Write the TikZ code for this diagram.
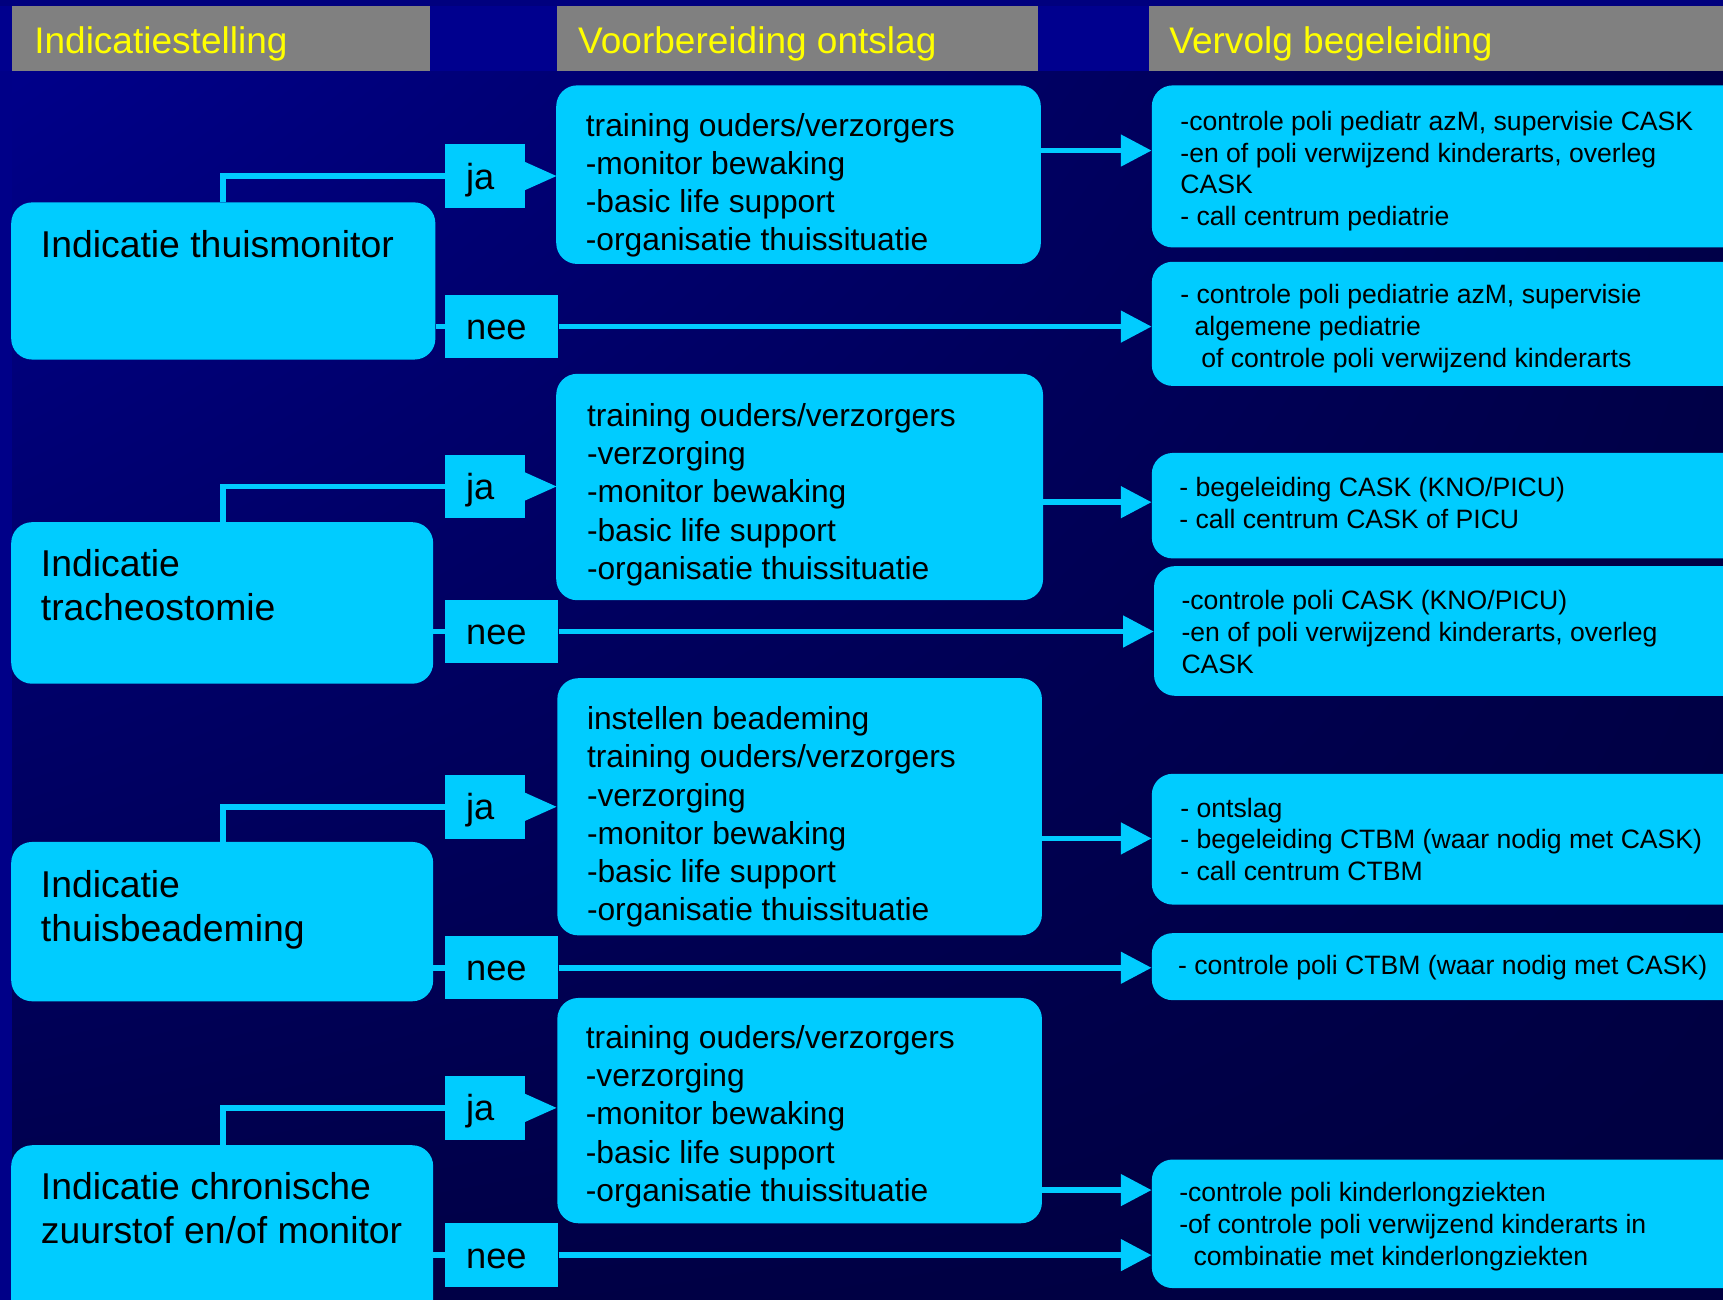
\documentclass[tikz,border=0pt]{standalone}
\usepackage{fontspec}
\setmainfont{Liberation Sans}
\usetikzlibrary{arrows.meta,calc,shadings}
\definecolor{cbox}{HTML}{00CCFF}
\definecolor{hgray}{HTML}{808080}
\definecolor{hyel}{HTML}{FFFF00}
\definecolor{bgA}{HTML}{00008E}
\definecolor{bgB}{HTML}{00004A}
\definecolor{bgC}{HTML}{000048}
\definecolor{bgD}{HTML}{000040}
\definecolor{band}{HTML}{00008E}
\definecolor{bandtop}{HTML}{00007E}
\definecolor{strip}{HTML}{000088}
\newcommand\mlines[1]{\vtop{\halign{##\hfil\cr#1\crcr}}}
\tikzset{
  box/.style={fill=cbox, rounded corners=19pt, inner sep=0pt, anchor=north west},
  tag/.style={fill=cbox, inner sep=0pt, anchor=north west},
  hdr/.style={fill=hgray, inner sep=0pt, anchor=north west},
  htext/.style={inner sep=0pt, anchor=base west, text=hyel, font=\fontsize{33.7}{40}\selectfont},
  ltext/.style={inner sep=0pt, anchor=base west, text=black, font=\fontsize{34}{40}\selectfont},
  ttext/.style={inner sep=0pt, anchor=base west, text=black, font=\fontsize{33}{40}\selectfont},
  mtext/.style={inner sep=0pt, anchor=base west, text=black, font=\fontsize{28.9}{34.8}\selectfont},
  rtext/.style={inner sep=0pt, anchor=base west, text=black, font=\fontsize{24.2}{29}\selectfont},
  conn/.style={draw=cbox, line width=5pt},
  arr/.style={conn, -{Triangle[length=28pt,width=28pt]}},
}
\begin{document}
\begin{tikzpicture}[x=1pt,y=-1pt]
\useasboundingbox (0,0) rectangle (1568,1183);
\clip (0,0) rectangle (1568,1183);
% background
\shade[upper left=bgA, upper right=bgB, lower left=bgC, lower right=bgD] (0,0) rectangle (1568,1183);
\fill[bandtop] (0,0) rectangle (1568,5.5);
\fill[band] (0,5.5) rectangle (1568,64.5);
\fill[strip] (0,64.5) rectangle (11,1183);

% headers
\node[hdr, minimum width=380pt, minimum height=59pt] (h1) at (11,5.5) {};
\node[hdr, minimum width=437.6pt, minimum height=59pt] (h2) at (507,5.5) {};
\node[hdr, minimum width=540pt, minimum height=59pt] (h3) at (1045.6,5.5) {};
\node[htext] (h1t) at (31,48.5) {Indicatiestelling};
\node[htext] (h2t) at (526,48.5) {Voorbereiding ontslag};
\node[htext] (h3t) at (1064,48.5) {Vervolg begeleiding};

% left boxes
\node[box, minimum width=386pt, minimum height=143pt] (l1) at (10,184) {};
\node[box, minimum width=384pt, minimum height=147pt] (l2) at (10,475) {};
\node[box, minimum width=384pt, minimum height=145pt] (l3) at (10,766) {};
\node[box, minimum width=384pt, minimum height=170pt] (l4) at (10,1042) {};
\node[ltext] (l1t) at (37,234) {Indicatie thuismonitor};
\node[ltext] (l2t) at (37,525) {\mlines{Indicatie\cr tracheostomie}};
\node[ltext] (l3t) at (37,817) {\mlines{Indicatie\cr thuisbeademing}};
\node[ltext] (l4t) at (37,1092) {\mlines{Indicatie chronische\cr zuurstof en/of monitor}};

% middle boxes
\node[box, minimum width=441pt, minimum height=162.5pt] (m1) at (506,77.5) {};
\node[box, minimum width=443pt, minimum height=206pt] (m2) at (506,340) {};
\node[box, minimum width=441pt, minimum height=234pt] (m3) at (507,617) {};
\node[box, minimum width=441pt, minimum height=205pt] (m4) at (507,908) {};
\node[mtext] (m1t) at (533,124) {\mlines{training ouders/verzorgers\cr -monitor bewaking\cr -basic life support\cr -organisatie thuissituatie}};
\node[mtext] (m2t) at (534,388) {\mlines{training ouders/verzorgers\cr -verzorging\cr -monitor bewaking\cr -basic life support\cr -organisatie thuissituatie}};
\node[mtext] (m3t) at (534,664) {\mlines{instellen beademing\cr training ouders/verzorgers\cr -verzorging\cr -monitor bewaking\cr -basic life support\cr -organisatie thuissituatie}};
\node[mtext] (m4t) at (533,954) {\mlines{training ouders/verzorgers\cr -verzorging\cr -monitor bewaking\cr -basic life support\cr -organisatie thuissituatie}};

% right boxes
\node[box, minimum width=560pt, minimum height=147.5pt] (r1) at (1048,77.5) {};
\node[box, minimum width=560pt, minimum height=113pt] (r2) at (1048,238) {};
\node[box, minimum width=560pt, minimum height=96pt] (r3) at (1048,412) {};
\node[box, minimum width=560pt, minimum height=118pt] (r4) at (1050,515) {};
\node[box, minimum width=560pt, minimum height=119pt] (r5) at (1048,704) {};
\node[box, minimum width=560pt, minimum height=61pt] (r6) at (1048,849) {};
\node[box, minimum width=560pt, minimum height=117pt] (r7) at (1048,1055) {};
\node[rtext] (r1t) at (1074,118.5) {\mlines{-controle poli pediatr azM, supervisie CASK\cr -en of poli verwijzend kinderarts, overleg\cr CASK\cr - call centrum pediatrie}};
\node[rtext] (r2t) at (1074,276.5) {\mlines{- controle poli pediatrie azM, supervisie\cr \hspace*{13pt}algemene pediatrie\cr \hspace*{19pt}of controle poli verwijzend kinderarts}};
\node[rtext] (r3t) at (1073,451.5) {\mlines{- begeleiding CASK (KNO/PICU)\cr - call centrum CASK of PICU}};
\node[rtext] (r4t) at (1075,554.5) {\mlines{-controle poli CASK (KNO/PICU)\cr -en of poli verwijzend kinderarts, overleg\cr CASK}};
\node[rtext] (r5t) at (1074,743.5) {\mlines{- ontslag\cr - begeleiding CTBM (waar nodig met CASK)\cr - call centrum CTBM}};
\node[rtext] (r6t) at (1072,886.5) {- controle poli CTBM (waar nodig met CASK)};
\node[rtext] (r7t) at (1073,1093.5) {\mlines{-controle poli kinderlongziekten\cr -of controle poli verwijzend kinderarts in\cr \hspace*{13pt}combinatie met kinderlongziekten}};

% ja / nee tags
\node[tag, minimum width=73pt, minimum height=58pt] (ja1) at (405,131) {};
\node[tag, minimum width=103pt, minimum height=58pt] (nee1) at (405,268) {};
\node[tag, minimum width=73pt, minimum height=57pt] (ja2) at (405,414) {};
\node[tag, minimum width=103pt, minimum height=57pt] (nee2) at (405,546) {};
\node[tag, minimum width=73pt, minimum height=58pt] (ja3) at (405,705) {};
\node[tag, minimum width=103pt, minimum height=57pt] (nee3) at (405,852) {};
\node[tag, minimum width=73pt, minimum height=58pt] (ja4) at (405,979) {};
\node[tag, minimum width=103pt, minimum height=58pt] (nee4) at (405,1113) {};
\foreach \t in {ja1,ja2,ja3,ja4}{
  \fill[cbox] ([yshift=-13pt,xshift=-1pt]\t.east) -- ([xshift=28pt]\t.east) -- ([yshift=13pt,xshift=-1pt]\t.east) -- cycle;
}
\node[ttext] (ja1t) at (424,172) {ja};
\node[ttext] (nee1t) at (424,309) {nee};
\node[ttext] (ja2t) at (424,454.5) {ja};
\node[ttext] (nee2t) at (424,586.5) {nee};
\node[ttext] (ja3t) at (424,746) {ja};
\node[ttext] (nee3t) at (424,892.5) {nee};
\node[ttext] (ja4t) at (424,1020) {ja};
\node[ttext] (nee4t) at (424,1154) {nee};

% connectors left -> tags
\draw[conn] ($(l1.north west)+(193,0)$) |- (ja1.west);
\draw[conn] ($(l2.north west)+(193,0)$) |- (ja2.west);
\draw[conn] ($(l3.north west)+(193,0)$) |- (ja3.west);
\draw[conn] ($(l4.north west)+(193,0)$) |- (ja4.west);
\draw[conn] (l1.east |- nee1.west) -- (nee1.west);
\draw[conn] (l2.east |- nee2.west) -- (nee2.west);
\draw[conn] (l3.east |- nee3.west) -- (nee3.west);
\draw[conn] (l4.east |- nee4.west) -- (nee4.west);

% arrows to right column
\coordinate (a1) at (0,137);
\coordinate (a2) at (0,457);
\coordinate (a3) at (0,763);
\coordinate (a4) at (0,1083);
\draw[arr] (m1.east |- a1) -- (r1.west |- a1);
\draw[arr] (m2.east |- a2) -- (r3.west |- a2);
\draw[arr] (m3.east |- a3) -- (r5.west |- a3);
\draw[arr] (m4.east |- a4) -- (r7.west |- a4);
\draw[arr] (nee1.east) -- (nee1.east -| r2.west);
\draw[arr] (nee2.east) -- (nee2.east -| r4.west);
\draw[arr] (nee3.east) -- (nee3.east -| r6.west);
\draw[arr] (nee4.east) -- (nee4.east -| r7.west);
\end{tikzpicture}
\end{document}
